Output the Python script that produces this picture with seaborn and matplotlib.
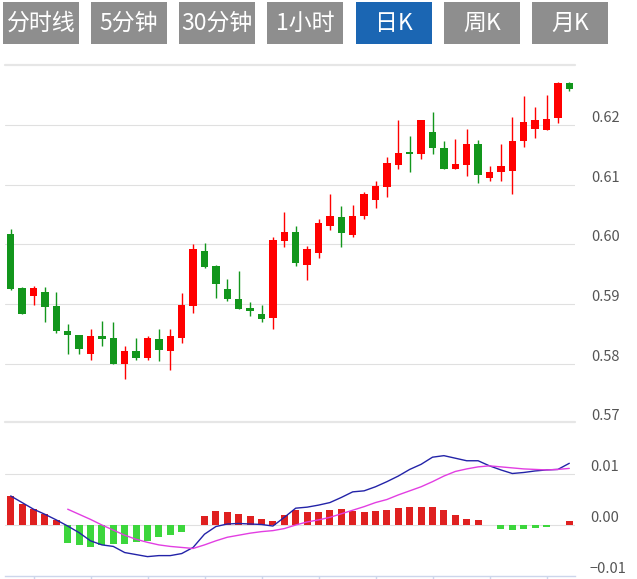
import numpy as np
import pandas as pd
import matplotlib
matplotlib.use('Agg')
import matplotlib.pyplot as plt
import matplotlib.transforms as mtransforms
from matplotlib.patches import Rectangle
import seaborn as sns

# 日K 数据 (读自图片)
opens = [0.6018, 0.5927, 0.5913, 0.5920, 0.5897, 0.5855, 0.5849, 0.5816, 0.5846, 0.5844,
         0.5800, 0.5821, 0.5809, 0.5842, 0.5821, 0.5844, 0.5897, 0.5989, 0.5964, 0.5925,
         0.5909, 0.5894, 0.5883, 0.5876, 0.6006, 0.6021, 0.5966, 0.5985, 0.6031, 0.6046,
         0.6016, 0.6047, 0.6075, 0.6096, 0.6134, 0.6155, 0.6151, 0.6189, 0.6162, 0.6126,
         0.6134, 0.6168, 0.6112, 0.6121, 0.6123, 0.6173, 0.6193, 0.6192, 0.6212, 0.6270]
highs = [0.6026, 0.5928, 0.5930, 0.5928, 0.5920, 0.5866, 0.5849, 0.5858, 0.5872, 0.5870,
         0.5830, 0.5844, 0.5846, 0.5858, 0.5858, 0.5918, 0.6001, 0.6003, 0.5965, 0.5942,
         0.5955, 0.5904, 0.5898, 0.6013, 0.6054, 0.6031, 0.5997, 0.6042, 0.6085, 0.6064,
         0.6066, 0.6088, 0.6106, 0.6147, 0.6208, 0.6182, 0.6209, 0.6222, 0.6173, 0.6177,
         0.6193, 0.6175, 0.6132, 0.6169, 0.6214, 0.6249, 0.6230, 0.6250, 0.6272, 0.6272]
lows = [0.5924, 0.5883, 0.5898, 0.5870, 0.5852, 0.5816, 0.5817, 0.5807, 0.5830, 0.5800,
        0.5774, 0.5806, 0.5806, 0.5804, 0.5790, 0.5835, 0.5885, 0.5960, 0.5911, 0.5906,
        0.5892, 0.5880, 0.5870, 0.5858, 0.5996, 0.5964, 0.5941, 0.5978, 0.6024, 0.5996,
        0.6013, 0.6042, 0.6061, 0.6080, 0.6127, 0.6121, 0.6144, 0.6151, 0.6126, 0.6126,
        0.6115, 0.6103, 0.6106, 0.6106, 0.6084, 0.6163, 0.6178, 0.6192, 0.6204, 0.6258]
closes = [0.5925, 0.5883, 0.5927, 0.5896, 0.5855, 0.5848, 0.5825, 0.5846, 0.5842, 0.5800,
          0.5821, 0.5809, 0.5844, 0.5823, 0.5846, 0.5898, 0.5993, 0.5962, 0.5934, 0.5909,
          0.5892, 0.5889, 0.5875, 0.6007, 0.6021, 0.5969, 0.5992, 0.6036, 0.6048, 0.6020,
          0.6048, 0.6085, 0.6098, 0.6136, 0.6153, 0.6151, 0.6208, 0.6161, 0.6126, 0.6135,
          0.6168, 0.6117, 0.6122, 0.6132, 0.6173, 0.6205, 0.6208, 0.6210, 0.6270, 0.6261]

# MACD
macd_hist = [0.0056, 0.0042, 0.0031, 0.0022, 0.0010, -0.0036, -0.0039, -0.0044, -0.0039, -0.0037,
             -0.0037, -0.0033, -0.0031, -0.0023, -0.0019, -0.0013, 0.0, 0.0018, 0.0028, 0.0025,
             0.0022, 0.0018, 0.0012, 0.0008, 0.0020, 0.0030, 0.0025, 0.0025, 0.0029, 0.0032,
             0.0028, 0.0025, 0.0028, 0.0029, 0.0034, 0.0036, 0.0035, 0.0036, 0.0030, 0.0020,
             0.0012, 0.0010, 0.0, -0.0007, -0.0010, -0.0008, -0.0005, -0.0003, 0.0, 0.0007]
dif = [0.0057, 0.0044, 0.0031, 0.0021, 0.0010, -0.0002, -0.0015, -0.0031, -0.0039, -0.0042,
       -0.0054, -0.0058, -0.0062, -0.0060, -0.0060, -0.0056, -0.0044, -0.0018, -0.0003, 0.0002,
       0.0003, 0.0002, 0.0001, -0.0002, 0.0015, 0.0033, 0.0035, 0.0039, 0.0044, 0.0054,
       0.0065, 0.0067, 0.0075, 0.0085, 0.0096, 0.0109, 0.0119, 0.0133, 0.0136, 0.0131,
       0.0126, 0.0126, 0.0116, 0.0108, 0.0101, 0.0103, 0.0106, 0.0108, 0.0109, 0.0121]
dea = [np.nan, np.nan, np.nan, np.nan, np.nan, 0.0031, 0.0021, 0.0011, 0.0000, -0.0010,
       -0.0020, -0.0028, -0.0034, -0.0039, -0.0042, -0.0044, -0.0046, -0.0039, -0.0031, -0.0024,
       -0.0020, -0.0016, -0.0013, -0.0011, -0.0007, 0.0000, 0.0006, 0.0010, 0.0015, 0.0022,
       0.0029, 0.0036, 0.0044, 0.0050, 0.0059, 0.0067, 0.0075, 0.0085, 0.0096, 0.0105,
       0.0110, 0.0114, 0.0116, 0.0114, 0.0112, 0.0110, 0.0109, 0.0108, 0.0109, 0.0111]

price_ticks = [0.57, 0.58, 0.59, 0.60, 0.61, 0.62]
macd_ticks = [-0.01, 0.00, 0.01]
buttons = ['分时线', '5分钟', '30分钟', '1小时', '日K', '周K', '月K']
active_button = '日K'

RED = '#ff0000'
GREEN = '#12961c'
GRID = '#e0e0e0'
LABEL = '#555555'

sns.set_style('white')
plt.rcParams['font.family'] = ['Noto Sans CJK SC', 'DejaVu Sans']

df = pd.DataFrame({'idx': np.arange(len(opens)), 'open': opens, 'high': highs,
                   'low': lows, 'close': closes, 'hist': macd_hist, 'dif': dif, 'dea': dea})
df['up'] = df['close'] >= df['open']
df['hsign'] = np.where(df['hist'] >= 0, 'pos', 'neg')

W, H = 637, 579
fig = plt.figure(figsize=(W / 100, H / 100), dpi=100)

# 顶部按钮
bx = [3, 91, 179, 267, 356, 444, 532]
for x0, name in zip(bx, buttons):
    col = '#1b66b3' if name == active_button else '#8e8e8e'
    fig.add_artist(Rectangle((x0 / W, 1 - 44 / H), 76 / W, 42 / H,
                             transform=fig.transFigure, color=col, lw=0))
    fig.text((x0 + 38) / W, 1 - 23 / H, name, ha='center', va='center',
             color='white', fontsize=16.5)

# K 线图
ax = fig.add_axes([5 / W, 1 - 423.5 / H, 570 / W, 358 / H])
ax.set_xlim(-0.5, len(df) - 0.5)
ax.set_ylim(0.57, 0.63)
for v in price_ticks[1:]:
    ax.axhline(v, color=GRID, lw=0.8, zorder=0)
ax.axhline(0.63, color='#e6e6e6', lw=1.6, zorder=0, clip_on=False)

colors = np.where(df['up'], RED, GREEN)
ax.vlines(df['idx'], df['low'], df['high'], colors=colors, lw=1.0, zorder=2)
body_low = np.minimum(df['open'], df['close'])
body_h = np.maximum(np.abs(df['close'] - df['open']), 0.00005)
ax.bar(df['idx'], body_h, bottom=body_low, width=0.64, color=colors, lw=0, zorder=3)
ax.set_xticks([])
ax.set_yticks([])
for s in ax.spines.values():
    s.set_visible(False)

lab_tr = mtransforms.offset_copy(ax.get_yaxis_transform(), fig=fig, x=0, y=7, units='dots')
for v in price_ticks:
    ax.text(1.028, v, f'{v:.2f}', transform=lab_tr, ha='left', va='center',
            color=LABEL, fontsize=10.5, clip_on=False)

# MACD
axm = fig.add_axes([5 / W, 1 - 576 / H, 570 / W, 154 / H])
sns.barplot(data=df, x='idx', y='hist', hue='hsign', palette={'pos': RED, 'neg': '#22f022'},
            dodge=False, width=0.6, native_scale=True, legend=False, ax=axm, zorder=3,
            linewidth=0)
sns.lineplot(data=df, x='idx', y='dif', color='#2323a8', lw=1.0, estimator=None,
             errorbar=None, ax=axm, zorder=4)
sns.lineplot(data=df.dropna(subset=['dea']), x='idx', y='dea', color='#e23ee2', lw=1.0,
             estimator=None, errorbar=None, ax=axm, zorder=4)
axm.set_xlim(-0.5, len(df) - 0.5)
axm.set_ylim(-0.01, 0.0202)
for v in [0.0, 0.01]:
    axm.axhline(v, color=GRID, lw=0.8, zorder=0)
axm.axhline(0.0202, color='#e6e6e6', lw=1.6, zorder=0, clip_on=False)
for k, s in axm.spines.items():
    s.set_visible(k == 'bottom')
axm.spines['bottom'].set_color('#ccd6eb')
axm.spines['bottom'].set_linewidth(1.0)
axm.set_xticks(df['idx'][2::5])
axm.set_xticklabels([])
axm.tick_params(axis='x', bottom=True, length=4, width=1, color='#ccd6eb', direction='out')
axm.set_yticks([])
axm.set_xlabel('')
axm.set_ylabel('')

mlab_tr = mtransforms.offset_copy(axm.get_yaxis_transform(), fig=fig, x=0, y=7, units='dots')
for v in macd_ticks:
    axm.text(1.026, v, f'{v:.2f}'.replace('-', '\u2212'), transform=mlab_tr, ha='left',
             va='center', color=LABEL, fontsize=10.5, clip_on=False)

fig.savefig('out.png', dpi=100)
